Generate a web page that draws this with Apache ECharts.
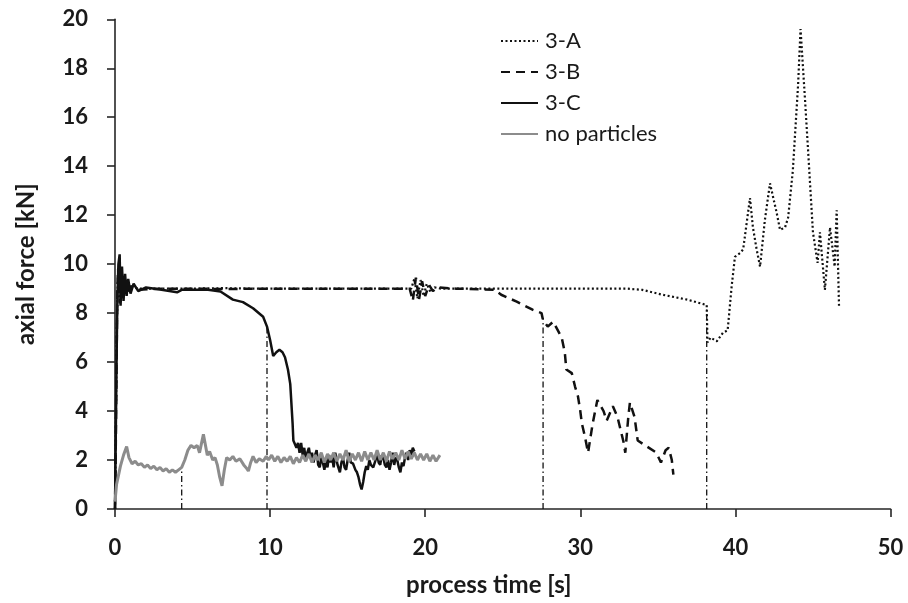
<!DOCTYPE html>
<html>
<head>
<meta charset="utf-8">
<script src="https://cdn.jsdelivr.net/npm/echarts@6/dist/echarts.min.js"></script>
<style>
html,body{margin:0;padding:0;background:#fff;}
#chart{width:908px;height:603px;}
</style>
</head>
<body>
<div id="chart"></div>
<script>
var seriesNames = ['3-A', '3-B', '3-C', 'no particles'];
var xTicks = [0, 10, 20, 30, 40, 50];
var yTicks = [0, 2, 4, 6, 8, 10, 12, 14, 16, 18, 20];

var data3A = [[0,0],[0.05,3],[0.1,6.5],[0.15,8.6],[0.2,9.6],[0.3,8.6],[0.4,9.5],[0.5,8.7],[0.6,9.3],[0.8,8.9],[1.0,9.1],[1.5,9.0],[3,9.0],[5,9.0],[7,9.02],[9,9.0],[11,9.0],[13,9.0],[15,9.0],[17,9.0],[19.1,9.0],[19.3,9.4],[19.5,8.6],[19.7,9.35],[19.9,8.7],[20.1,9.2],[20.35,8.85],[20.6,9.05],[21,9.0],[23,9.0],[25,9.0],[27,9.0],[29,9.0],[31,9.0],[33,9.0],[34,8.95],[35.3,8.75],[36.9,8.55],[38.15,8.33],[38.2,6.8],[38.4,7.0],[38.8,6.85],[39.2,7.2],[39.5,7.3],[39.76,9.1],[39.97,10.3],[40.3,10.45],[40.5,10.6],[40.94,12.7],[41.13,11.5],[41.37,10.6],[41.59,9.9],[41.9,11.8],[42.23,13.3],[42.66,12.1],[42.88,11.4],[43.2,11.5],[43.4,11.9],[43.7,13.8],[44.04,17.3],[44.2,19.6],[44.5,16.6],[44.7,14.5],[45.0,11.3],[45.3,10.05],[45.45,11.3],[45.77,8.95],[46.1,11.5],[46.4,9.9],[46.53,12.2],[46.68,8.3]];

var data3B = [[0,0],[0.05,2.5],[0.1,6],[0.15,8.8],[0.2,9.8],[0.3,8.4],[0.4,9.6],[0.5,8.6],[0.6,9.3],[0.8,8.8],[1.0,9.1],[1.5,8.95],[3,9.0],[5,9.0],[7,8.98],[9,9.0],[11,9.0],[13,9.0],[15,9.0],[17,9.0],[19.0,9.0],[19.2,8.5],[19.4,9.45],[19.6,8.55],[19.8,9.3],[20.0,8.7],[20.25,9.15],[20.5,8.9],[20.8,9.05],[22,9.0],[24.5,8.95],[24.9,8.75],[25.9,8.47],[26.95,8.13],[27.5,8.0],[27.6,7.7],[27.9,7.45],[28.25,7.65],[28.8,7.0],[29.0,6.4],[29.1,5.7],[29.45,5.55],[29.66,5.0],[29.85,4.6],[30.0,4.0],[30.1,3.5],[30.3,2.95],[30.5,2.3],[30.8,3.5],[31.1,4.45],[31.5,4.0],[31.7,3.6],[32.1,4.2],[32.4,3.75],[32.8,2.7],[32.9,2.3],[33.1,3.8],[33.2,4.35],[33.5,3.75],[33.7,2.8],[34.3,2.55],[34.9,2.3],[35.2,1.9],[35.5,2.4],[35.7,2.5],[35.9,2.0],[36.0,1.4]];

var data3C = [[0,0],[0.05,3],[0.1,6],[0.15,8.5],[0.22,10.0],[0.3,10.4],[0.36,8.3],[0.45,9.9],[0.55,8.5],[0.65,9.6],[0.75,8.7],[0.85,9.4],[1.0,8.8],[1.2,9.2],[1.5,8.9],[2,9.05],[3,8.95],[4,8.85],[4.3,8.95],[5,8.95],[6,8.95],[6.8,8.88],[7.6,8.55],[8.25,8.45],[8.9,8.2],[9.55,7.85],[9.8,7.45],[10.0,6.9],[10.2,6.25],[10.4,6.4],[10.6,6.5],[10.8,6.4],[10.96,6.2],[11.15,5.7],[11.3,5.1],[11.45,3.5],[11.5,2.8],[11.6,2.85],[11.7,2.5],[11.8,2.7],[11.9,2.3],[12.0,2.7],[12.1,2.2],[12.2,2.5],[12.3,2.0],[12.4,2.3],[12.5,2.5],[12.6,2.1],[12.7,2.3],[12.8,1.9],[12.9,2.2],[13.0,2.4],[13.1,1.8],[13.2,1.7],[13.3,2.1],[13.4,1.9],[13.5,1.6],[13.6,2.0],[13.7,1.7],[13.8,2.2],[13.9,1.9],[14.0,2.1],[14.1,1.7],[14.2,2.3],[14.35,1.8],[14.5,1.5],[14.6,1.9],[14.7,2.1],[14.8,1.7],[14.9,1.6],[15.0,2.0],[15.1,2.3],[15.2,1.9],[15.35,1.85],[15.5,1.6],[15.6,1.5],[15.7,1.3],[15.8,1.0],[15.9,0.8],[16.0,1.1],[16.1,1.5],[16.2,1.75],[16.3,1.6],[16.4,2.0],[16.5,1.8],[16.65,1.7],[16.8,2.0],[16.9,2.3],[17.0,1.9],[17.1,1.8],[17.2,2.2],[17.3,2.1],[17.4,1.8],[17.5,1.7],[17.6,2.0],[17.7,1.6],[17.8,1.9],[17.9,2.3],[18.0,1.8],[18.1,2.1],[18.2,2.0],[18.3,1.7],[18.4,1.5],[18.5,1.9],[18.6,1.75],[18.7,2.1],[18.8,2.3],[18.9,2.0],[19.0,2.4],[19.1,2.2],[19.2,2.5],[19.3,2.35]];

var dataNone = [[0,0.3],[0.1,1.0],[0.2,1.3],[0.35,1.75],[0.55,2.2],[0.75,2.55],[0.9,2.1],[1.1,1.85],[1.3,1.95],[1.5,1.8],[1.7,1.85],[1.9,1.7],[2.1,1.8],[2.3,1.65],[2.5,1.75],[2.7,1.6],[2.9,1.7],[3.1,1.55],[3.3,1.65],[3.5,1.5],[3.7,1.6],[3.9,1.5],[4.1,1.6],[4.3,1.7],[4.5,2.0],[4.7,2.4],[4.9,2.6],[5.1,2.5],[5.3,2.6],[5.45,2.3],[5.7,3.05],[5.95,2.2],[6.1,2.35],[6.3,2.0],[6.45,2.1],[6.6,1.8],[6.75,1.3],[6.9,0.95],[7.05,1.6],[7.2,2.1],[7.4,2.0],[7.6,2.15],[7.8,1.95],[8.05,2.05],[8.3,1.8],[8.5,1.65],[8.6,1.55],[8.75,1.9],[8.9,2.15],[9.1,1.9],[9.3,2.05],[9.55,1.95],[9.75,2.15],[9.9,2.0],[10.1,2.2],[10.3,1.95],[10.5,2.15],[10.7,1.9],[10.9,2.1],[11.1,1.95],[11.3,2.15],[11.5,1.85],[11.7,2.1],[11.9,1.9],[12.1,2.2],[12.3,1.95],[12.5,2.25],[12.7,1.9],[12.9,2.2],[13.1,2.0],[13.3,2.3],[13.5,1.9],[13.7,2.25],[13.9,2.0],[14.1,2.3],[14.3,1.95],[14.5,2.25],[14.7,2.0],[14.9,2.4],[15.1,1.95],[15.3,2.25],[15.5,2.0],[15.7,2.3],[15.9,1.95],[16.1,2.35],[16.3,2.0],[16.5,2.3],[16.7,2.0],[16.9,2.4],[17.1,2.0],[17.3,2.3],[17.5,1.95],[17.7,2.35],[17.9,2.05],[18.1,2.3],[18.3,2.0],[18.5,2.4],[18.7,2.05],[18.9,2.35],[19.1,2.05],[19.3,2.3],[19.5,2.0],[19.7,2.25],[19.9,2.0],[20.1,2.25],[20.3,1.95],[20.5,2.2],[20.7,1.95],[20.95,2.2]];

var dropTimes = [4.3, 9.8, 27.6, 38.15];
var dropTops = [1.6, 7.45, 7.8, 8.3];

var FONT = 'Lato, "Open Sans", sans-serif';
var chart = echarts.init(document.getElementById('chart'), null, {renderer: 'canvas'});

var dropSeries = dropTimes.map(function (t, i) {
  return {
    name: 'drop' + i, type: 'line', symbol: 'none', silent: true, z: 1,
    data: [[t, 0], [t, dropTops[i]]],
    lineStyle: {color: '#111', width: 1.3, type: [6, 3, 1.5, 3]}
  };
});

var mainStyles = [
  {color: '#111', width: 2.2, type: [2, 2.5]},
  {color: '#111', width: 2.5, type: [9, 6]},
  {color: '#111', width: 2.5, type: 'solid'},
  {color: '#8c8c8c', width: 3, type: 'solid'}
];
var mainData = [data3A, data3B, data3C, dataNone];
var mainSeries = seriesNames.map(function (n, i) {
  return {
    name: n, type: 'line', symbol: 'none', showSymbol: false, z: 2 + i,
    data: mainData[i],
    itemStyle: {color: mainStyles[i].color},
    lineStyle: mainStyles[i]
  };
});

chart.setOption({
  animation: false,
  backgroundColor: '#ffffff',
  grid: {left: 115, right: 17.5, top: 19.3, bottom: 94, containLabel: false},
  legend: {
    data: seriesNames,
    orient: 'vertical',
    left: 495, top: 25,
    itemWidth: 37, itemHeight: 12, itemGap: 9,
    itemStyle: {opacity: 0},
    textStyle: {fontFamily: FONT, fontSize: 22, color: '#1a1a1a', padding: [0, 0, 0, 2], lineHeight: 22}
  },
  xAxis: {
    type: 'value', min: 0, max: 50, interval: 10,
    name: 'process time [s]', nameLocation: 'middle', nameGap: 64,
    nameTextStyle: {fontFamily: FONT, fontSize: 24, fontWeight: 'bold', color: '#1a1a1a', padding: [0, 28, 0, 0]},
    axisLine: {show: true, lineStyle: {color: '#262626', width: 1.6}},
    axisTick: {show: true, inside: false, length: 8, lineStyle: {color: '#262626', width: 1.6}},
    axisLabel: {fontFamily: FONT, fontSize: 22, fontWeight: 'bold', color: '#1a1a1a', margin: 28,
      formatter: function (v) { return xTicks.indexOf(v) >= 0 ? String(v) : ''; }},
    splitLine: {show: false}
  },
  yAxis: {
    type: 'value', min: 0, max: 20, interval: 2,
    name: 'axial force [kN]', nameLocation: 'middle', nameGap: 77, nameRotate: 90,
    nameTextStyle: {fontFamily: FONT, fontSize: 24, fontWeight: 'bold', color: '#1a1a1a'},
    axisLine: {show: true, lineStyle: {color: '#262626', width: 1.6}},
    axisTick: {show: true, inside: false, length: 8, lineStyle: {color: '#262626', width: 1.6}},
    axisLabel: {fontFamily: FONT, fontSize: 22, fontWeight: 'bold', color: '#1a1a1a', margin: 27,
      formatter: function (v) { return yTicks.indexOf(v) >= 0 ? String(v) : ''; }},
    splitLine: {show: false}
  },
  series: dropSeries.concat(mainSeries)
});
</script>
</body>
</html>
